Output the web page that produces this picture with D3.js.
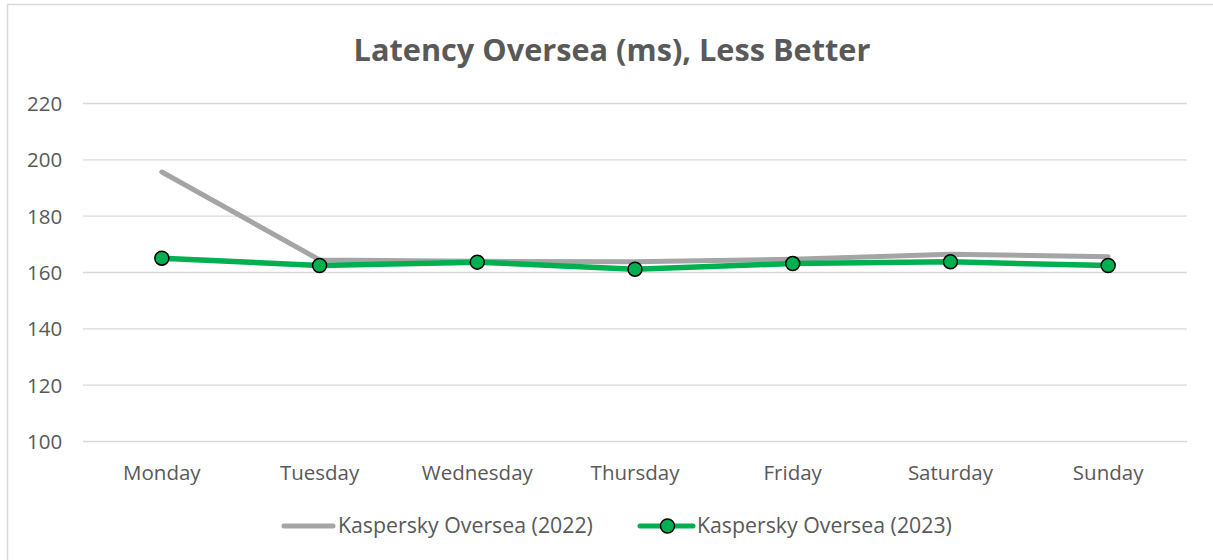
<!DOCTYPE html>
<html>
<head>
<meta charset="utf-8">
<script src="https://cdn.jsdelivr.net/npm/d3@7/dist/d3.min.js"></script>
<style>
  body { margin: 0; background: #fff; }
  svg { display: block; font-family: "Open Sans", "Noto Sans", sans-serif; }
</style>
</head>
<body>
<svg id="chart" width="1213" height="560"></svg>
<script>
/* Latency Oversea – line chart */

const TITLE = "Latency Oversea (ms), Less Better";
const DAYS = ["Monday", "Tuesday", "Wednesday", "Thursday", "Friday", "Saturday", "Sunday"];
const Y_TICKS = [100, 120, 140, 160, 180, 200, 220];
const SERIES_NAMES = ["Kaspersky Oversea (2022)", "Kaspersky Oversea (2023)"];
const VALUES_2022 = [195.5, 164.3, 163.8, 163.6, 164.5, 166.3, 165.4];
const VALUES_2023 = [164.9, 162.3, 163.5, 161.0, 163.0, 163.6, 162.3];

const GRAY = "#a5a5a5";
const GREEN = "#00b050";
const TEXT = "#595959";
const FS = 20.5;

const margin = { top: 103, right: 26, bottom: 119, left: 83 };
const W = 1213, H = 560;
const innerW = W - margin.left - margin.right;
const innerH = H - margin.top - margin.bottom;

const svg = d3.select("#chart");

// chart frame (only top/left edges visible in the picture)
svg.append("path")
  .attr("d", `M7.5,${H} V4.5 H${W}`)
  .attr("fill", "none")
  .attr("stroke", "#d9d9d9")
  .attr("stroke-width", 1.5);

svg.append("text")
  .attr("x", 612).attr("y", 61)
  .attr("text-anchor", "middle")
  .attr("fill", TEXT)
  .attr("font-size", 30.7)
  .attr("font-weight", "bold")
  .text(TITLE);

const g = svg.append("g").attr("transform", `translate(${margin.left},${margin.top})`);

const x = d3.scaleBand().domain(DAYS).range([0, innerW]);
const y = d3.scaleLinear().domain([100, 220]).range([innerH, 0]);

// gridlines + y labels
const yAxis = g.append("g")
  .call(d3.axisLeft(y).tickValues(Y_TICKS).tickSize(-innerW));
yAxis.select(".domain").remove();
yAxis.selectAll(".tick line").attr("stroke", "#d9d9d9").attr("stroke-width", 1.3);
yAxis.selectAll(".tick text")
  .attr("fill", TEXT).attr("font-size", FS)
  .attr("font-family", "Open Sans, sans-serif")
  .attr("text-anchor", "start").attr("x", -56).attr("dy", "0.36em");

// x labels
const xAxis = g.append("g")
  .attr("transform", `translate(0,${innerH})`)
  .call(d3.axisBottom(x).tickSize(0).tickPadding(24.5));
xAxis.select(".domain").remove();
xAxis.selectAll(".tick text")
  .attr("fill", TEXT).attr("font-size", FS)
  .attr("font-family", "Open Sans, sans-serif");

const cx = d => x(d) + x.bandwidth() / 2;
const line = d3.line().x((d, i) => cx(DAYS[i])).y(d => y(d));

g.append("path").datum(VALUES_2022)
  .attr("d", line)
  .attr("fill", "none").attr("stroke", GRAY)
  .attr("stroke-width", 5).attr("stroke-linejoin", "round").attr("stroke-linecap", "round");

g.append("path").datum(VALUES_2023)
  .attr("d", line)
  .attr("fill", "none").attr("stroke", GREEN)
  .attr("stroke-width", 5.5).attr("stroke-linejoin", "round");

g.selectAll("circle.pt").data(VALUES_2023).join("circle")
  .attr("class", "pt")
  .attr("cx", (d, i) => cx(DAYS[i]))
  .attr("cy", d => y(d))
  .attr("r", 7)
  .attr("fill", GREEN).attr("stroke", "#000").attr("stroke-width", 1.5);

// legend
const leg = svg.append("g").attr("transform", "translate(0,526)");
leg.append("line").attr("x1", 284).attr("x2", 333)
  .attr("stroke", GRAY).attr("stroke-width", 5).attr("stroke-linecap", "round");
leg.append("text").attr("x", 338).attr("y", 0).attr("dy", "0.35em")
  .attr("fill", TEXT).attr("font-size", 21.3).text(SERIES_NAMES[0]);

leg.append("line").attr("x1", 640).attr("x2", 693)
  .attr("stroke", GREEN).attr("stroke-width", 5).attr("stroke-linecap", "round");
leg.append("circle").attr("cx", 667.5).attr("cy", 0).attr("r", 7)
  .attr("fill", GREEN).attr("stroke", "#000").attr("stroke-width", 1.5);
leg.append("text").attr("x", 697).attr("y", 0).attr("dy", "0.35em")
  .attr("fill", TEXT).attr("font-size", 21.3).text(SERIES_NAMES[1]);
</script>
</body>
</html>
